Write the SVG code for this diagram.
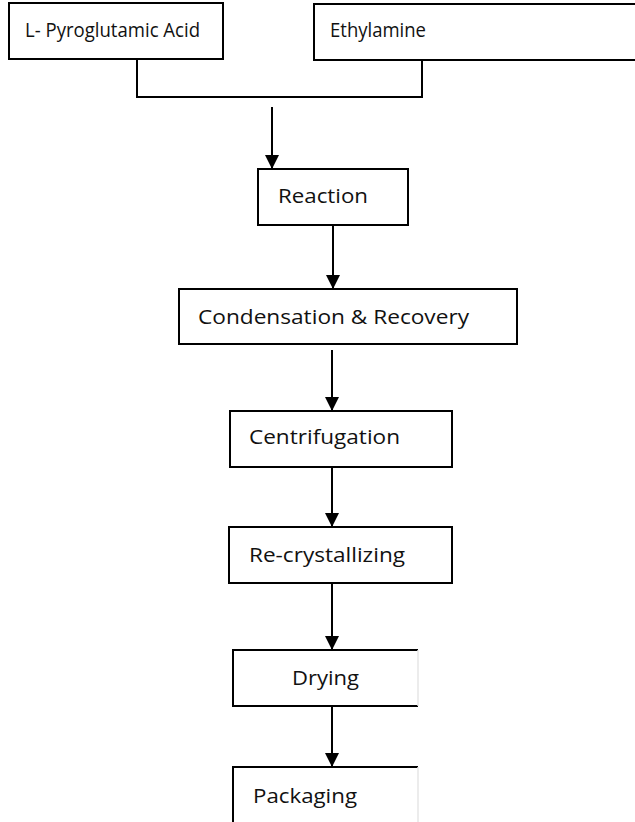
<svg xmlns="http://www.w3.org/2000/svg" width="635" height="822" viewBox="0 0 635 822">
<defs>
<style>
.box{fill:#fff;stroke:#000;stroke-width:2}
.t{font-family:"Open Sans","Liberation Sans",sans-serif;font-size:20px;fill:#111}
.ln{fill:none;stroke:#000;stroke-width:2}
.faint{stroke:#e6e6e6;stroke-width:1.5}
</style>
<marker id="ah" markerWidth="14" markerHeight="14" refX="13" refY="7" orient="auto" markerUnits="userSpaceOnUse">
<path d="M0,0 L14,7 L0,14 Z" fill="#000"/>
</marker>
</defs>
<rect width="635" height="822" fill="#fff"/>
<g id="connectors">
<path class="ln" d="M137,59 V97 H422 V59"/>
<line class="ln" x1="272" y1="107" x2="272" y2="168" marker-end="url(#ah)"/>
<line class="ln" x1="333" y1="225" x2="333" y2="288" marker-end="url(#ah)"/>
<line class="ln" x1="332" y1="350" x2="332" y2="410" marker-end="url(#ah)"/>
<line class="ln" x1="332" y1="467" x2="332" y2="526" marker-end="url(#ah)"/>
<line class="ln" x1="332" y1="583" x2="332" y2="649" marker-end="url(#ah)"/>
<line class="ln" x1="332" y1="706" x2="332" y2="766" marker-end="url(#ah)"/>
</g>
<g id="n-pyro">
<rect class="box" x="9" y="3" width="214" height="56"/>
<text class="t" x="25" y="37" textLength="175" lengthAdjust="spacingAndGlyphs">L- Pyroglutamic Acid</text>
</g>
<g id="n-ethyl">
<rect class="box" x="314" y="4" width="330" height="56"/>
<text class="t" x="330" y="37" textLength="96" lengthAdjust="spacingAndGlyphs">Ethylamine</text>
</g>
<g id="n-reaction">
<rect class="box" x="258" y="169" width="150" height="56"/>
<text class="t" x="278" y="203" textLength="90" lengthAdjust="spacingAndGlyphs">Reaction</text>
</g>
<g id="n-condensation">
<rect class="box" x="179" y="289" width="338" height="55"/>
<text class="t" x="198" y="324" textLength="271" lengthAdjust="spacingAndGlyphs">Condensation &amp; Recovery</text>
</g>
<g id="n-centrifugation">
<rect class="box" x="230" y="411" width="222" height="56"/>
<text class="t" x="249" y="444" textLength="151" lengthAdjust="spacingAndGlyphs">Centrifugation</text>
</g>
<g id="n-recrystallizing">
<rect class="box" x="229" y="527" width="223" height="56"/>
<text class="t" x="249" y="562" textLength="156" lengthAdjust="spacingAndGlyphs">Re-crystallizing</text>
</g>
<g id="n-drying">
<path class="ln" d="M418,650 H233 V706 H418"/>
<line class="faint" x1="418" y1="650" x2="418" y2="706"/>
<text class="t" x="292" y="685" textLength="67" lengthAdjust="spacingAndGlyphs">Drying</text>
</g>
<g id="n-packaging">
<path class="ln" d="M418,767 H233 V830"/>
<line class="faint" x1="418" y1="767" x2="418" y2="822"/>
<text class="t" x="253" y="803" textLength="104" lengthAdjust="spacingAndGlyphs">Packaging</text>
</g>
</svg>
